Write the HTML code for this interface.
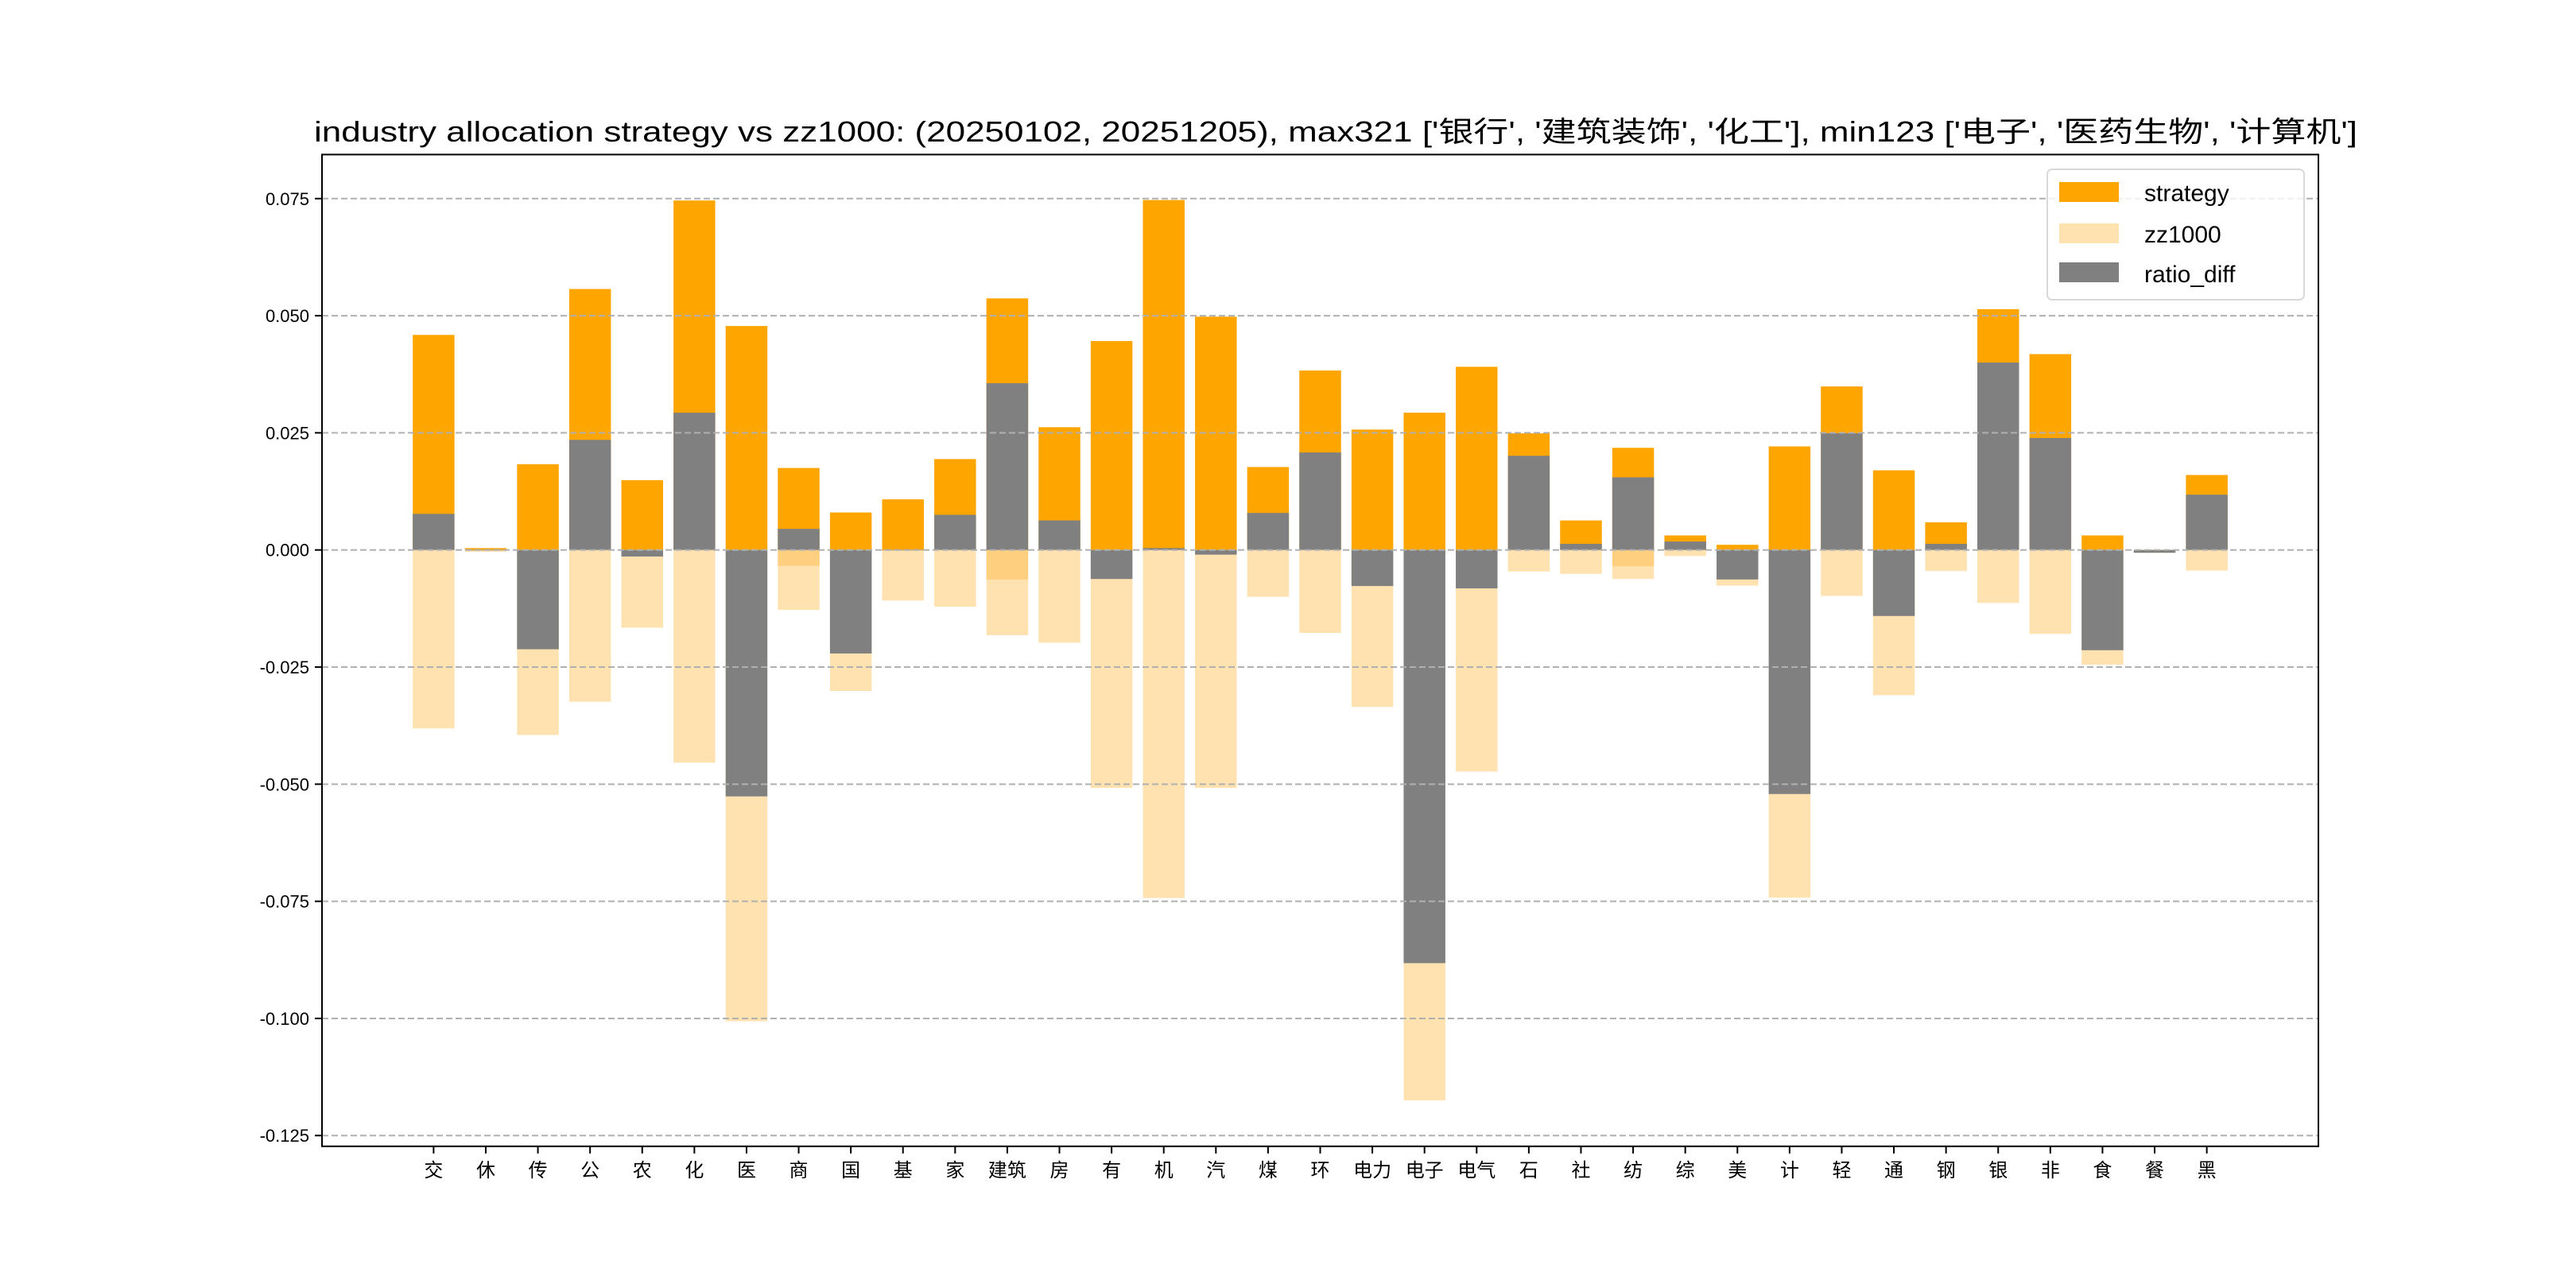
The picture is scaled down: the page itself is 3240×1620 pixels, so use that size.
<!DOCTYPE html>
<html><head><meta charset="utf-8"><style>
html,body{margin:0;padding:0;background:#fff;}
svg{display:block;}
text{font-family:"Liberation Sans","Noto Sans CJK SC",sans-serif;fill:#000;}
</style></head><body>
<svg id="chart" xmlns="http://www.w3.org/2000/svg" width="3240" height="1620" viewBox="0 0 3240 1620">
<rect width="3240" height="1620" fill="#fff"/>
<text x="1680" y="178" text-anchor="middle" font-size="36" textLength="2570" lengthAdjust="spacingAndGlyphs">industry allocation strategy vs zz1000: (20250102, 20251205), max321 ['银行', '建筑装饰', '化工'], min123 ['电子', '医药生物', '计算机']</text>
<g id="grid"></g>
<g id="bars"></g>
<g id="gridTop"></g>
<g id="axes"></g>
<g id="legend">
<rect x="2575" y="213" width="323" height="164" rx="6" fill="#fff" fill-opacity="0.8" stroke="#d9d9d9" stroke-width="2"/>
<rect x="2590" y="229" width="75" height="25" fill="#FFA500"/>
<text x="2697" y="253" font-size="30" font-family="Liberation Mono, monospace">strategy</text>
<rect x="2590" y="281" width="75" height="25" fill="#FFE2B0"/>
<text x="2697" y="305" font-size="30" font-family="Liberation Mono, monospace">zz1000</text>
<rect x="2590" y="330" width="75" height="25" fill="#808080"/>
<text x="2697" y="355" font-size="30" font-family="Liberation Mono, monospace">ratio_diff</text>
</g>
</svg>
<script>
const categories = ["交","休","传","公","农","化","医","商","国","基","家","建筑","房","有","机","汽","煤","环","电力","电子","电气","石","社","纺","综","美","计","轻","通","钢","银","非","食","餐","黑"];
const strategy = [0.0459,0.0004,0.0183,0.0557,0.0149,0.0746,0.0478,0.0175,0.0080,0.0108,0.0194,0.0537,0.0262,0.0446,0.0747,0.0498,0.0177,0.0383,0.0257,0.0293,0.0391,0.0249,0.0063,0.0218,0.0031,0.0011,0.0221,0.0349,0.0170,0.0059,0.0514,0.0418,0.0031,0.0000,0.0160];
const zz1000 = [0.0381,0.0004,0.0395,0.0324,0.0166,0.0454,0.1006,0.0128,0.0301,0.0108,0.0121,0.0182,0.0198,0.0508,0.0743,0.0508,0.0100,0.0177,0.0335,0.1175,0.0473,0.0046,0.0051,0.0062,0.0013,0.0076,0.0742,0.0098,0.0310,0.0045,0.0113,0.0179,0.0245,0.0006,0.0044];
const ratioDiff = [0.0077,0.0000,-0.0212,0.0235,-0.0014,0.0293,-0.0526,0.0045,-0.0221,0.0000,0.0075,0.0356,0.0063,-0.0062,0.0004,-0.0010,0.0079,0.0208,-0.0077,-0.0882,-0.0082,0.0201,0.0013,0.0155,0.0018,-0.0063,-0.0521,0.0249,-0.0141,0.0013,0.0400,0.0239,-0.0214,-0.0006,0.0118];
const zzOverlap = [0,0,0,0,0,0,0,0.0034,0,0,0,0.0063,0,0,0,0,0,0,0,0,0,0,0,0.0035,0,0,0,0,0,0,0,0,0,0,0];
const yTicks = [0.075,0.050,0.025,0.000,-0.025,-0.050,-0.075,-0.100,-0.125];
const yTickLabels = ["0.075","0.050","0.025","0.000","\u22120.025","\u22120.050","\u22120.075","\u22120.100","\u22120.125"];

const NS="http://www.w3.org/2000/svg";
const L=405,R=2916,T=194.4,B=1441.8;
const Y0=0.0844,Y1=-0.1273;
const X0=-2.14,X1=categories.length-1+2.14;
function xs(i){return L+(i-X0)/(X1-X0)*(R-L);}
function ys(v){return T+(Y0-v)/(Y0-Y1)*(B-T);}
const bw=0.8*(R-L)/(X1-X0);
function mk(tag,attrs,parent){const e=document.createElementNS(NS,tag);for(const k in attrs)e.setAttribute(k,attrs[k]);parent.appendChild(e);return e;}
const bars=document.getElementById('bars');
function bar(i,a,b,fill,name){
  const y1=ys(Math.max(a,b)),y2=ys(Math.min(a,b));
  const r=mk('rect',{x:xs(i)-bw/2,y:y1,width:bw,height:Math.max(y2-y1,0.5),fill:fill},bars);
  
  
}
const grid=document.getElementById('gridTop');
yTicks.forEach(v=>{
  const l=mk('line',{x1:L,x2:R,y1:ys(v),y2:ys(v),stroke:'#b0b0b0','stroke-width':2,'stroke-dasharray':'8,4'},grid);
  
  
});
categories.forEach((c,i)=>{
  bar(i,0,strategy[i],'#FFA500','bar-strategy-'+i);
  bar(i,0,-zz1000[i],'#FFE2B0','bar-zz1000-'+i);
  if(zzOverlap[i]>0) bar(i,0,-zzOverlap[i],'#FFCF80','bar-zz1000-overlap-'+i);
  bar(i,0,ratioDiff[i],'#808080','bar-ratio-diff-'+i);
});
const ax=document.getElementById('axes');
const box=mk('rect',{x:L,y:T,width:R-L,height:B-T,fill:'none',stroke:'#000','stroke-width':2},ax);


yTicks.forEach((v,k)=>{
  mk('line',{x1:L-9,x2:L,y1:ys(v),y2:ys(v),stroke:'#000','stroke-width':2},ax);
  const t=mk('text',{x:L-16,y:ys(v)+8,'text-anchor':'end','font-size':22},ax);
  t.textContent=yTickLabels[k].replace('\u2212','-');
  
  
});
categories.forEach((c,i)=>{
  mk('line',{x1:xs(i),x2:xs(i),y1:B,y2:B+9,stroke:'#000','stroke-width':2},ax);
  const t=mk('text',{x:xs(i),y:B+38,'text-anchor':'middle','font-size':24},ax);
  t.textContent=c;
  
  
});
</script>
</body></html>
